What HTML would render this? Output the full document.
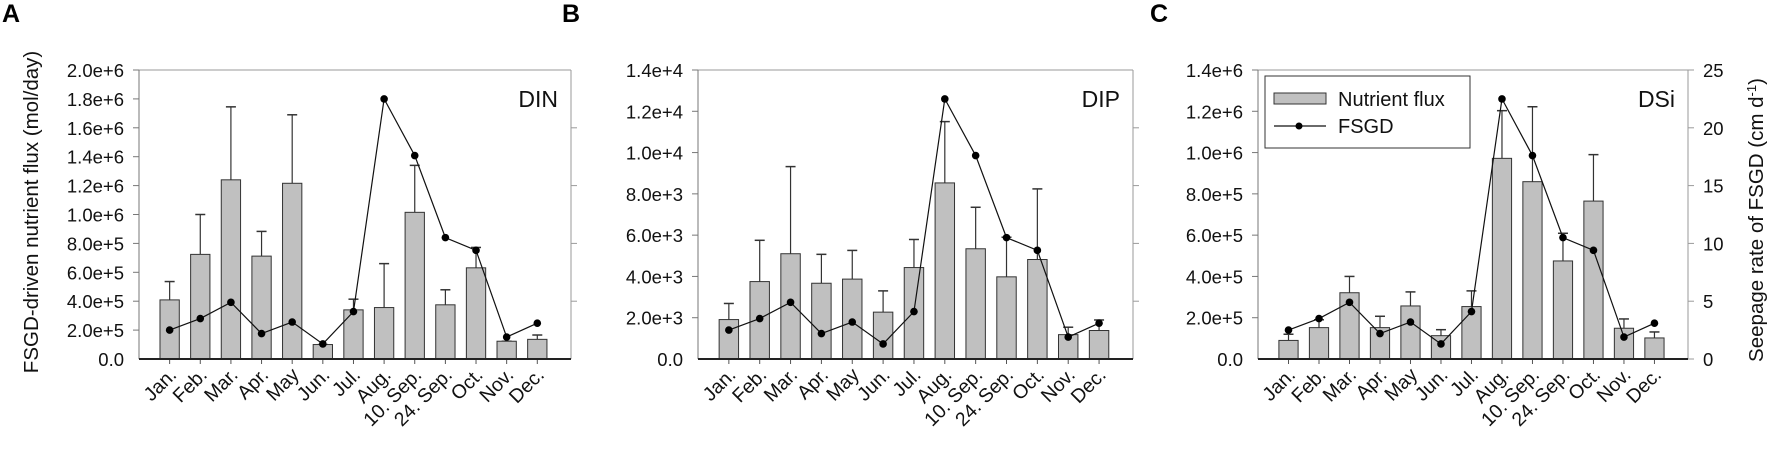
<!DOCTYPE html>
<html><head><meta charset="utf-8">
<style>
html,body{margin:0;padding:0;background:#fff;}
svg{display:block;font-family:"Liberation Sans",Arial,sans-serif;}
</style></head>
<body>
<svg id="fig" width="1772" height="449" viewBox="0 0 1772 449" xmlns="http://www.w3.org/2000/svg">
<text x="2" y="22" font-size="25" font-weight="bold">A</text>
<text x="562" y="22" font-size="25" font-weight="bold">B</text>
<text x="1150" y="22" font-size="25" font-weight="bold">C</text>
<text transform="translate(38,212) rotate(-90)" text-anchor="middle" font-size="20.5" fill="#111">FSGD-driven nutrient flux (mol/day)</text>
<text transform="translate(1763,220) rotate(-90)" text-anchor="middle" font-size="20.5" fill="#111">Seepage rate of FSGD (cm d<tspan baseline-shift="super" font-size="13">-1</tspan>)</text>
</svg>
<script>
const categories = ["Jan.","Feb.","Mar.","Apr.","May","Jun.","Jul.","Aug.","10. Sep.","24. Sep.","Oct.","Nov.","Dec."];
const fsgd = [2.5,3.5,4.9,2.2,3.2,1.3,4.1,22.5,17.6,10.5,9.4,1.9,3.1];
const dinFlux = [4.09e5,7.24e5,1.24e6,7.12e5,1.216e6,1.0e5,3.4e5,3.56e5,1.015e6,3.75e5,6.31e5,1.23e5,1.36e5];
const dinErr = [5.36e5,1.0e6,1.745e6,8.83e5,1.69e6,1.0e5,4.14e5,6.6e5,1.34e6,4.79e5,7.72e5,1.23e5,1.66e5];
const dipFlux = [1.91e3,3.75e3,5.1e3,3.67e3,3.87e3,2.27e3,4.43e3,8.53e3,5.34e3,3.98e3,4.82e3,1.18e3,1.38e3];
const dipErr = [2.69e3,5.75e3,9.32e3,5.07e3,5.26e3,3.3e3,5.79e3,1.15e4,7.35e3,5.9e3,8.24e3,1.54e3,1.89e3];
const dsiFlux = [9.0e4,1.52e5,3.21e5,1.52e5,2.57e5,1.13e5,2.54e5,9.72e5,8.59e5,4.75e5,7.65e5,1.49e5,1.02e5];
const dsiErr = [1.2e5,1.9e5,4.0e5,2.07e5,3.25e5,1.42e5,3.3e5,1.203e6,1.222e6,6.09e5,9.9e5,1.94e5,1.31e5];
const dinTicks = ["0.0","2.0e+5","4.0e+5","6.0e+5","8.0e+5","1.0e+6","1.2e+6","1.4e+6","1.6e+6","1.8e+6","2.0e+6"];
const dipTicks = ["0.0","2.0e+3","4.0e+3","6.0e+3","8.0e+3","1.0e+4","1.2e+4","1.4e+4"];
const dsiTicks = ["0.0","2.0e+5","4.0e+5","6.0e+5","8.0e+5","1.0e+6","1.2e+6","1.4e+6"];
const seepTicks = ["0","5","10","15","20","25"];
const dinMax = 2.0e6, dipMax = 1.4e4, dsiMax = 1.4e6, seepMax = 25;

const NS = "http://www.w3.org/2000/svg";
const svg = document.getElementById("fig");
function mk(tag, attrs, parent){
  const e = document.createElementNS(NS, tag);
  for (const k in attrs) e.setAttribute(k, attrs[k]);
  (parent||svg).appendChild(e);
  return e;
}

function panel(key, L, R, T, B, flux, err, ticks, ymax, label, rightLabels, legend){
  const g = mk("g", {});
  
  
  const W = R - L;
  const step = W / 14.1;
  const xs = i => L + (i + 1) * step;
  const y = v => B - v / ymax * (B - T);
  const ys = v => B - v / seepMax * (B - T);
  const top = mk("line", {x1:L, y1:T, x2:R, y2:T, stroke:"#9a9a9a", "stroke-width":1}, g);
  
  
  const rl = mk("line", {x1:R, y1:T, x2:R, y2:B, stroke:"#9a9a9a", "stroke-width":1}, g);
  
  
  const ll = mk("line", {x1:L, y1:T, x2:L, y2:B, stroke:"#777", "stroke-width":1}, g);
  
  
  ticks.forEach((t, i) => {
    const v = i * ymax / (ticks.length - 1);
    const yy = y(v);
    if (i > 0) {
      const tk = mk("line", {x1:L-6, y1:yy, x2:L, y2:yy, stroke:"#777", "stroke-width":1}, g);
      
      
    }
    const tx = mk("text", {x:L-15, y:yy+7, "text-anchor":"end", "font-size":"18.5", fill:"#111"}, g);
    tx.textContent = t;
    
    
  });
  seepTicks.forEach((t, i) => {
    const v = +t;
    const yy = ys(v);
    if (i > 0 && i < seepTicks.length - 1 || rightLabels) {
      const tk = mk("line", {x1:R, y1:yy, x2:R+6, y2:yy, stroke:"#9a9a9a", "stroke-width":1}, g);
      
      
    }
    if (rightLabels) {
      const tx = mk("text", {x:R+15, y:yy+7, "font-size":"18.5", fill:"#111"}, g);
      tx.textContent = t;
      
      
    }
  });
  const bw = step * 0.63;
  categories.forEach((c, i) => {
    const cx = xs(i);
    const e = mk("line", {x1:cx, y1:y(flux[i]), x2:cx, y2:y(err[i]), stroke:"#333", "stroke-width":1.2}, g);
    
    
    const cap = mk("line", {x1:cx-5, y1:y(err[i]), x2:cx+5, y2:y(err[i]), stroke:"#333", "stroke-width":1.5}, g);
    
    
    const r = mk("rect", {x:cx-bw/2, y:y(flux[i]), width:bw, height:B-y(flux[i]), fill:"#c0c0c0", stroke:"#333", "stroke-width":1}, g);
    
    
    const xt = mk("line", {x1:cx, y1:B, x2:cx, y2:B+5, stroke:"#555", "stroke-width":1}, g);
    
    
    const tx = mk("text", {transform:`translate(${cx+8},${B+17}) rotate(-45)`, "text-anchor":"end", "font-size":"19.5", fill:"#111"}, g);
    tx.textContent = c;
    
    
  });
  const bl = mk("line", {x1:L, y1:B, x2:R, y2:B, stroke:"#222", "stroke-width":2}, g);
  
  
  const pts = fsgd.map((v, i) => xs(i) + "," + ys(v)).join(" ");
  const pl = mk("polyline", {points:pts, fill:"none", stroke:"#111", "stroke-width":1.2}, g);
  
  
  fsgd.forEach((v, i) => {
    const p = mk("circle", {cx:xs(i), cy:ys(v), r:3.8, fill:"#000"}, g);
    
    
  });
  const lb = mk("text", {x:R-13, y:T+37, "text-anchor":"end", "font-size":"23", fill:"#111"}, g);
  lb.textContent = label;
  
  
  if (legend) {
    const lg = mk("g", {}, g);
    
    
    mk("rect", {x:1265, y:76, width:205, height:72, fill:"#fff", stroke:"#333", "stroke-width":1}, lg);
    const sw = mk("rect", {x:1274, y:93, width:52, height:11, fill:"#c0c0c0", stroke:"#333", "stroke-width":1}, lg);
    
    
    const t1 = mk("text", {x:1338, y:106, "font-size":"20", fill:"#111"}, lg);
    t1.textContent = "Nutrient flux";
    
    
    const ln = mk("line", {x1:1274, y1:126, x2:1326, y2:126, stroke:"#111", "stroke-width":1.2}, lg);
    
    
    const dot = mk("circle", {cx:1299, cy:126, r:3.5, fill:"#000"}, lg);
    
    
    const t2 = mk("text", {x:1338, y:133, "font-size":"20", fill:"#111"}, lg);
    t2.textContent = "FSGD";
    
    
  }
}
panel("din", 139, 571, 70, 359, dinFlux, dinErr, dinTicks, dinMax, "DIN", false, false);
panel("dip", 698, 1133, 70, 359, dipFlux, dipErr, dipTicks, dipMax, "DIP", false, false);
panel("dsi", 1258, 1688, 70, 359, dsiFlux, dsiErr, dsiTicks, dsiMax, "DSi", true, true);
</script>
</body></html>
